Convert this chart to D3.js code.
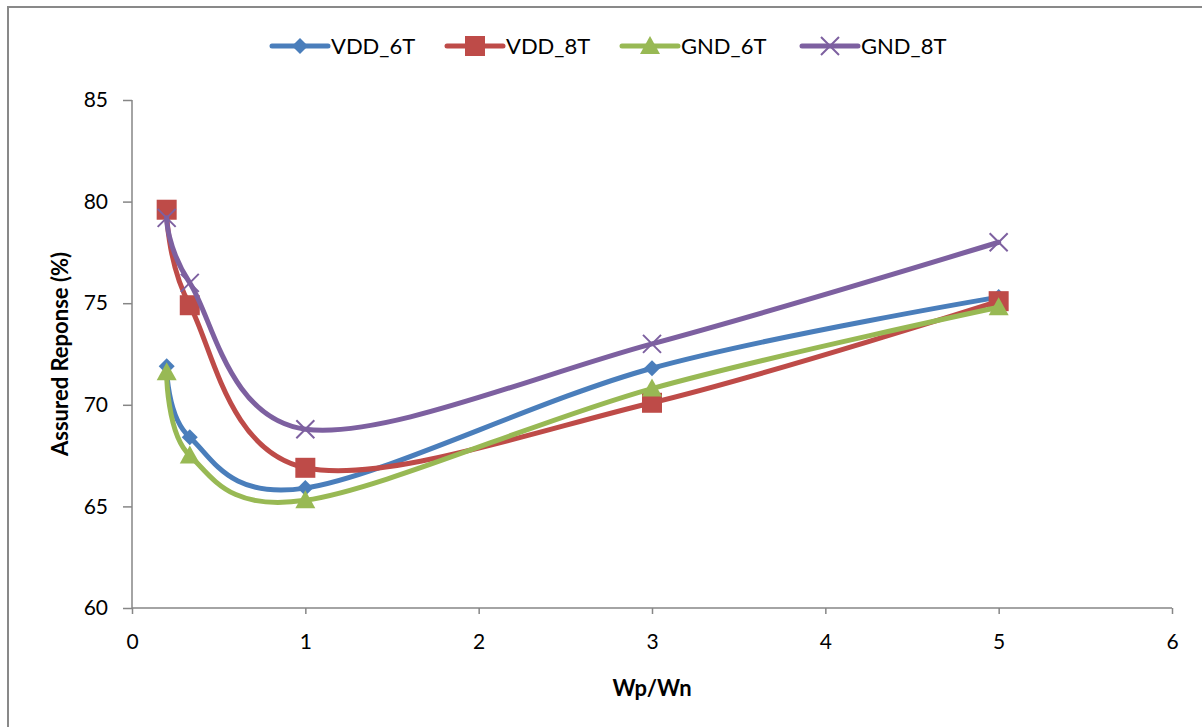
<!DOCTYPE html>
<html>
<head>
<meta charset="utf-8">
<script src="https://cdn.jsdelivr.net/npm/d3@7/dist/d3.min.js"></script>
<style>
  html, body { margin: 0; padding: 0; background: #fff; }
  svg { display: block; }
  text { font-family: Lato, "Open Sans", sans-serif; fill: #000; }
</style>
</head>
<body>
<svg id="chart" width="1202" height="727"></svg>
<script>
// Width ratio values shared by every series
const ratios = [0.2, 1 / 3, 1, 3, 5];

// Assured response (%) per series
const vdd6T = [71.9, 68.4, 65.9, 71.8, 75.3];
const vdd8T = [79.6, 74.9, 66.9, 70.1, 75.1];
const gnd6T = [71.6, 67.5, 65.3, 70.8, 74.8];
const gnd8T = [79.2, 76.0, 68.8, 73.0, 78.0];

const seriesNames = ["VDD_6T", "VDD_8T", "GND_6T", "GND_8T"];
const seriesColors = ["#4A7EBB", "#BE4B48", "#98B954", "#7D60A0"];
const seriesMarkers = ["diamond", "square", "triangle", "cross"];

const xTicks = [0, 1, 2, 3, 4, 5, 6];
const yTicks = [60, 65, 70, 75, 80, 85];

const seriesValues = [vdd6T, vdd8T, gnd6T, gnd8T];

const svg = d3.select("#chart");

// Chart frame (left and top edges visible)
svg.append("path")
  .attr("d", "M8,727 V7 H1202")
  .attr("fill", "none")
  .attr("stroke", "#898989")
  .attr("stroke-width", 2);

const x = d3.scaleLinear().domain([0, 6]).range([132, 1172]);
const y = d3.scaleLinear().domain([60, 85]).range([608, 100]);

// Axes
const axisColor = "#868686";
const xAxis = svg.append("g")
  .attr("transform", `translate(0,${y(60)})`)
  .call(d3.axisBottom(x).tickValues(xTicks).tickFormat(d3.format("d")).tickSize(6).tickPadding(20));
const yAxis = svg.append("g")
  .attr("transform", `translate(${x(0)},0)`)
  .call(d3.axisLeft(y).tickValues(yTicks).tickFormat(d3.format("d")).tickSize(9).tickPadding(15));

[xAxis, yAxis].forEach(g => {
  g.select(".domain").attr("stroke", axisColor).attr("stroke-width", 1.5);
  g.selectAll(".tick line").attr("stroke", axisColor).attr("stroke-width", 1.5);
  g.selectAll(".tick text")
    .style("font-family", "Lato, 'Open Sans', sans-serif")
    .style("font-size", "21px")
    .attr("fill", "#000");
});
xAxis.select(".domain").attr("d", `M${x(0)},0 H${x(6)}`);
yAxis.select(".domain").attr("d", `M0,${y(85)} V${y(60)}`);

// Axis titles
svg.append("text")
  .attr("x", x(3)).attr("y", 696)
  .attr("text-anchor", "middle")
  .style("font-size", "22px").style("font-weight", "bold")
  .text("Wp/Wn");
svg.append("text")
  .attr("transform", `translate(68,${(y(60) + y(85)) / 2}) rotate(-90)`)
  .attr("text-anchor", "middle")
  .style("font-size", "22px").style("font-weight", "bold")
  .text("Assured Reponse (%)");

// Marker shapes
function drawMarker(g, type, color) {
  if (type === "diamond") {
    g.append("path").attr("d", "M0,-8 L8,0 L0,8 L-8,0 Z").attr("fill", color);
  } else if (type === "square") {
    g.append("rect").attr("x", -10).attr("y", -10).attr("width", 20).attr("height", 20).attr("fill", color);
  } else if (type === "triangle") {
    g.append("path").attr("d", "M0,-10 L10,8 L-10,8 Z").attr("fill", color);
  } else {
    g.append("path").attr("d", "M-9,-9 L9,9 M-9,9 L9,-9")
      .attr("stroke", color).attr("stroke-width", 2).attr("fill", "none");
  }
}

const line = d3.line()
  .x(d => x(d[0]))
  .y(d => y(d[1]))
  .curve(d3.curveCardinal.tension(0));

seriesValues.forEach((vals, i) => {
  const pts = ratios.map((r, k) => [r, vals[k]]);
  const g = svg.append("g");
  g.append("path")
    .attr("d", line(pts))
    .attr("fill", "none")
    .attr("stroke", seriesColors[i])
    .attr("stroke-width", 5)
    .attr("stroke-linejoin", "round")
    .attr("stroke-linecap", "round");
  pts.forEach(p => {
    const m = g.append("g").attr("transform", `translate(${x(p[0])},${y(p[1])})`);
    drawMarker(m, seriesMarkers[i], seriesColors[i]);
  });
});

// Legend
const legendStarts = [270, 445, 620, 800];
const legend = svg.append("g");
seriesNames.forEach((name, i) => {
  const lg = legend.append("g").attr("transform", `translate(${legendStarts[i]},46)`);
  lg.append("line")
    .attr("x1", 2).attr("x2", 58).attr("y1", 0).attr("y2", 0)
    .attr("stroke", seriesColors[i]).attr("stroke-width", 5)
    .attr("stroke-linecap", "round");
  const m = lg.append("g").attr("transform", "translate(30,0)");
  drawMarker(m, seriesMarkers[i], seriesColors[i]);
  lg.append("text")
    .attr("x", 61).attr("y", 0).attr("dy", "0.35em")
    .style("font-size", "22px")
    .text(name);
});
</script>
</body>
</html>
